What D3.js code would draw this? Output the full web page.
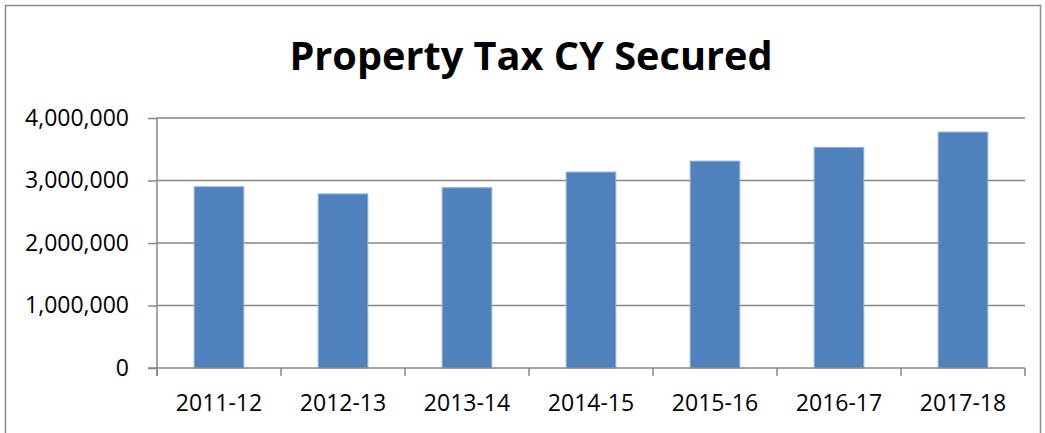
<!DOCTYPE html>
<html>
<head>
<meta charset="utf-8">
<script src="https://cdn.jsdelivr.net/npm/d3@7"></script>
<style>
  body { margin: 0; background: #fff; }
  text { font-family: "Open Sans", sans-serif; fill: #000; }
</style>
</head>
<body>
<svg></svg>
<script>
const width = 1045;
const height = 433;

// data
const years = ['2011-12', '2012-13', '2013-14', '2014-15', '2015-16', '2016-17', '2017-18'];
const secured = [2900000, 2785000, 2885000, 3135000, 3310000, 3530000, 3775000];
const yTicks = [0, 1000000, 2000000, 3000000, 4000000];

const plot = { left: 157, right: 1025, top: 118, bottom: 368 };

const svg = d3.select('svg')
  .attr('width', width)
  .attr('height', height);

// chart frame
svg.append('rect')
  .attr('x', 5.5)
  .attr('y', 5.5)
  .attr('width', 1035)
  .attr('height', 460)
  .attr('fill', 'none')
  .attr('stroke', '#898989')
  .attr('stroke-width', 1.5);

svg.append('text')
  .attr('x', 531)
  .attr('y', 70)
  .attr('text-anchor', 'middle')
  .style('font-weight', 'bold')
  .style('font-size', '39.7px')
  .text('Property Tax CY Secured');

const x = d3.scaleBand()
  .domain(years)
  .range([plot.left, plot.right])
  .paddingInner(0.6)
  .paddingOuter(0.3);

const y = d3.scaleLinear()
  .domain([0, 4000000])
  .range([plot.bottom, plot.top]);

// gridlines
svg.append('g')
  .selectAll('line')
  .data(yTicks.filter(d => d > 0))
  .enter()
  .append('line')
    .attr('x1', plot.left)
    .attr('x2', plot.right)
    .attr('y1', d => y(d))
    .attr('y2', d => y(d))
    .attr('stroke', '#868686')
    .attr('stroke-width', 1.5);

// bars
svg.append('g')
  .selectAll('rect')
  .data(secured)
  .enter()
  .append('rect')
    .attr('x', (d, i) => x(years[i]))
    .attr('y', d => y(d))
    .attr('width', x.bandwidth())
    .attr('height', d => y(0) - y(d))
    .attr('fill', '#4F81BD')
    .attr('stroke', '#8EB0DA')
    .attr('stroke-width', 1);

// y axis
const yAxis = svg.append('g')
  .attr('transform', `translate(${plot.left},0)`)
  .call(d3.axisLeft(y)
    .tickValues(yTicks)
    .tickSize(9)
    .tickPadding(19)
    .tickFormat(d3.format(',')));

// x axis
const xStep = (plot.right - plot.left) / years.length;
const xAxis = svg.append('g')
  .attr('transform', `translate(0,${plot.bottom})`);

xAxis.append('line')
  .attr('x1', plot.left - 9)
  .attr('x2', plot.right)
  .attr('stroke', '#868686')
  .attr('stroke-width', 1.5);

xAxis.selectAll('line.tick')
  .data(d3.range(years.length + 1))
  .enter()
  .append('line')
    .attr('class', 'tick')
    .attr('x1', i => plot.left + i * xStep)
    .attr('x2', i => plot.left + i * xStep)
    .attr('y1', 0)
    .attr('y2', 8)
    .attr('stroke', '#868686')
    .attr('stroke-width', 1.5);

xAxis.selectAll('text')
  .data(years)
  .enter()
  .append('text')
    .attr('x', d => x(d) + x.bandwidth() / 2)
    .attr('y', 43)
    .attr('text-anchor', 'middle')
    .style('font-size', '23px')
    .text(d => d);

yAxis.select('.domain')
  .attr('stroke', '#868686')
  .attr('stroke-width', 1.5)
  .attr('d', `M0,${plot.top}V${plot.bottom + 8}`);

yAxis.selectAll('.tick line')
  .attr('stroke', '#868686')
  .attr('stroke-width', 1.5);

yAxis.selectAll('.tick text')
  .style('font-size', '23px')
  .style('font-family', '"Open Sans", sans-serif')
  .attr('fill', '#000');
</script>
</body>
</html>
